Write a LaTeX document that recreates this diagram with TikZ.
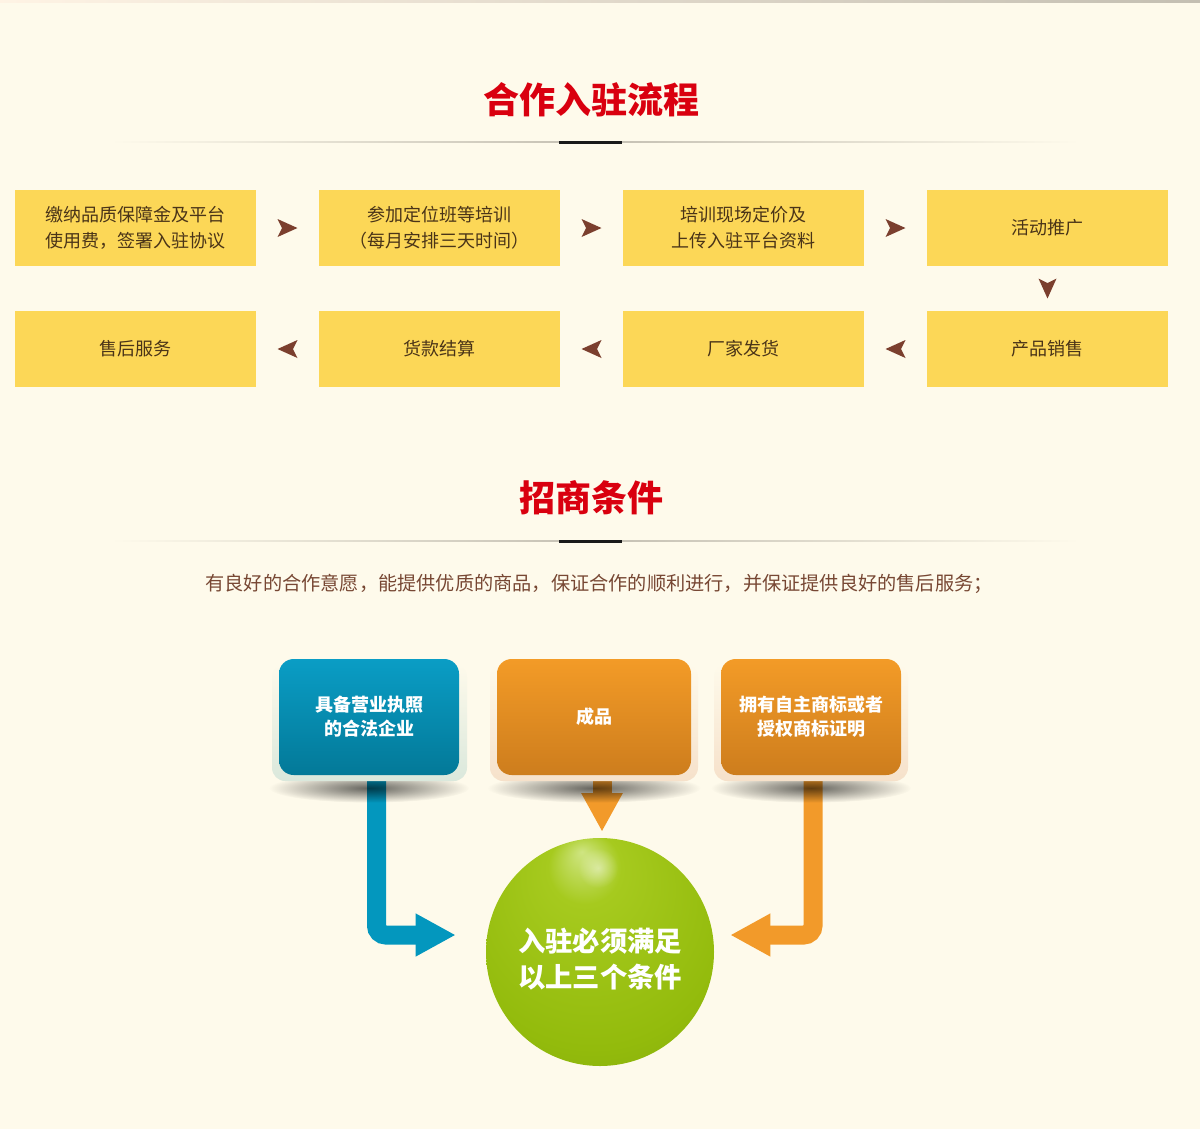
\documentclass[tikz,border=0pt]{standalone}
\usepackage{fontspec}
\setmainfont{Noto Sans CJK SC}
\usetikzlibrary{arrows.meta,calc,fadings}
\definecolor{bg}{HTML}{FEFAEB}
\definecolor{titlered}{HTML}{D9000F}
\definecolor{lineg}{HTML}{C4BFB2}
\definecolor{flowy}{HTML}{FCD757}
\definecolor{flowtxt}{HTML}{4A3418}
\definecolor{chevc}{HTML}{7B3F2E}
\definecolor{paratxt}{HTML}{774733}
\definecolor{blueT}{HTML}{0A9DC5}
\definecolor{blueB}{HTML}{037998}
\definecolor{oraT}{HTML}{F39B27}
\definecolor{oraB}{HTML}{CD7D1D}
\definecolor{blueL}{HTML}{0397BE}
\definecolor{oraL}{HTML}{F29A2A}
\definecolor{haloB}{HTML}{DAE8DC}
\definecolor{haloO}{HTML}{F6E1CA}
\definecolor{spA}{HTML}{CFE582}
\definecolor{spB}{HTML}{A6CA1E}
\definecolor{spC}{HTML}{93BB0C}
\definecolor{spD}{HTML}{789E0E}
\pgfdeclareradialshading{sphere}{\pgfpoint{-4bp}{22bp}}{color(0bp)=(spA); color(8bp)=(spB); color(30bp)=(spC); color(50bp)=(spD)}
\tikzfading[name=fuzzyell, inner color=transparent!0, outer color=transparent!100]
\begin{document}
\begin{tikzpicture}[x=0.75pt,y=-0.75pt,
  title/.style={text=titlered, font=\fontsize{27pt}{30pt}\selectfont\bfseries, inner sep=0pt},
  flow/.style={fill=flowy, minimum width=180.75pt, minimum height=57pt, inner sep=0pt,
    text=flowtxt, font=\fontsize{13.5pt}{19.5pt}\selectfont, align=center},
  cond/.style={rounded corners=11pt, minimum height=87pt, inner sep=0pt, text=white,
    font=\fontsize{13.5pt}{18pt}\selectfont\bfseries, align=center},
  bluecond/.style={cond, top color=blueT, bottom color=blueB, minimum width=135pt},
  oracond/.style={cond, top color=oraT, bottom color=oraB},
  bluearrow/.style={draw=blueL, line width=14.25pt, rounded corners=7pt,
    -{Triangle[length=30pt,width=30pt]}},
  oraarrow/.style={draw=oraL, line width=14.25pt, rounded corners=7pt,
    -{Triangle[length=30pt,width=30pt]}},
  chev/.pic={\fill[chevc] (10,0) -- (-10,-9) -- (-5.5,0) -- (-10,9) -- cycle;}
]
\useasboundingbox (0,0) rectangle (1200,1129);
\fill[bg] (0,0) rectangle (1200,1129);
\shade[left color=bg!80!orange!40, right color=lineg] (0,0) rectangle (1200,2);

% ---- section 1 title
\node[title] (t1) at (591,100) {合作入驻流程};
\shade[left color=bg, right color=bg, middle color=lineg] (110,141.5) rectangle (1080,142.6);
\fill[black!90] (559,140.5) rectangle (622,143.5);

% ---- flow boxes
\node[flow] (f1) at (135.5,228) {缴纳品质保障金及平台\\使用费，签署入驻协议};
\node[flow] (f2) at (439.5,228) {参加定位班等培训\\（每月安排三天时间）};
\node[flow] (f3) at (743.5,228) {培训现场定价及\\上传入驻平台资料};
\node[flow] (f4) at (1047.5,228) {活动推广};
\node[flow] (f5) at (1047.5,349) {产品销售};
\node[flow] (f6) at (743.5,349) {厂家发货};
\node[flow] (f7) at (439.5,349) {货款结算};
\node[flow] (f8) at (135.5,349) {售后服务};

\pic at ($(f1.east)!0.5!(f2.west)$) {chev};
\pic at ($(f2.east)!0.5!(f3.west)$) {chev};
\pic at ($(f3.east)!0.5!(f4.west)$) {chev};
\pic[rotate=-90] at ($(f4.south)!0.5!(f5.north)$) {chev};
\pic[rotate=180] at ($(f5.west)!0.5!(f6.east)$) {chev};
\pic[rotate=180] at ($(f6.west)!0.5!(f7.east)$) {chev};
\pic[rotate=180] at ($(f7.west)!0.5!(f8.east)$) {chev};

% ---- section 2 title
\node[title] (t2) at (591,498) {招商条件};
\shade[left color=bg, right color=bg, middle color=lineg] (110,540.5) rectangle (1080,541.6);
\fill[black!90] (559,539.5) rectangle (622,542.5);

\node[text=paratxt, font=\fontsize{14.4pt}{16pt}\selectfont, inner sep=0pt] (para) at (599,584)
  {有良好的合作意愿，能提供优质的商品，保证合作的顺利进行，并保证提供良好的售后服务；};

% ---- sphere
\node[circle, minimum size=171pt, inner sep=0pt, shading=sphere] (s) at (600,952) {};
\fill[white, opacity=0.45, path fading=fuzzyell] (598,868) circle [radius=15pt];
\node[text=white, font=\fontsize{20.5pt}{27pt}\selectfont\bfseries, align=center, inner sep=0pt]
  (st) at ($(s.center)+(0,7)$) {入驻必须满足\\以上三个条件};

% ---- condition positions (coordinates for connectors)
\coordinate (c1p) at (369,717);
\coordinate (c2p) at (594,717);
\coordinate (c3p) at (811,717);

% ---- connectors (drawn first, boxes cover their starts)
\draw[bluearrow] ($(c1p)+(7.5,50)$) |- ($(s.west)+(-30,-17)$);
\draw[oraarrow, -{Triangle[length=29pt,width=29pt]}] ($(c2p)+(8,50)$) -- ($(s.north)+(2,-6)$);
\draw[oraarrow] ($(c3p)+(2,50)$) |- ($(s.east)+(16,-17)$);

% ---- shadows under boxes
\fill[black, opacity=0.6, path fading=fuzzyell] (369,788) ellipse [x radius=75pt, y radius=11pt];
\fill[black, opacity=0.6, path fading=fuzzyell] (594,788) ellipse [x radius=80pt, y radius=11pt];
\fill[black, opacity=0.6, path fading=fuzzyell] (811,788) ellipse [x radius=75pt, y radius=11pt];

% ---- halos
\shade[top color=bg, bottom color=haloB, rounded corners=10pt] (272,664) rectangle (467,781);
\shade[top color=bg, bottom color=haloO, rounded corners=10pt] (490,664) rectangle (698,781);
\shade[top color=bg, bottom color=haloO, rounded corners=10pt] (714,664) rectangle (908,781);

% ---- condition boxes
\node[bluecond] (c1) at (c1p) {具备营业执照\\的合法企业};
\node[oracond, minimum width=145.5pt] (c2) at (c2p) {成品};
\node[oracond, minimum width=135pt] (c3) at (c3p) {拥有自主商标或者\\授权商标证明};
\end{tikzpicture}
\end{document}
